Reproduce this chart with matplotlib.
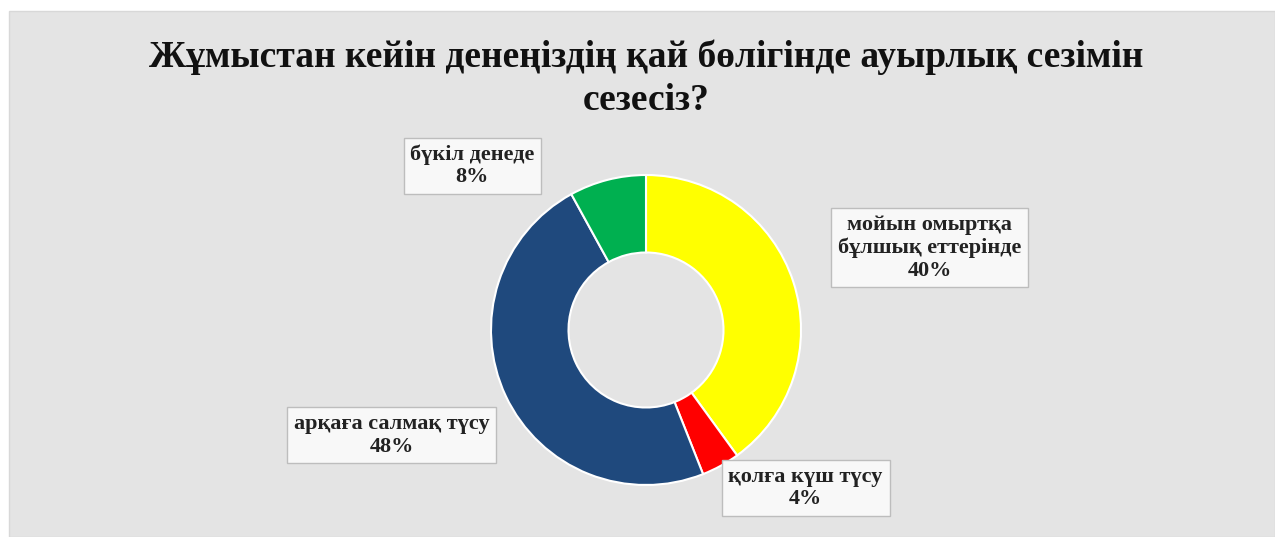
import matplotlib
matplotlib.use("Agg")
import matplotlib.pyplot as plt
from matplotlib.patches import Rectangle

# Survey answers: where people feel heaviness after work
categories = ["мойын омыртқа\nбұлшық еттерінде", "қолға күш түсу", "арқаға салмақ түсу", "бүкіл денеде"]
shares = [40, 4, 48, 8]
colors = ["#ffff00", "#ff0000", "#1f497d", "#00b050"]
title = "Жұмыстан кейін денеңіздің қай бөлігінде ауырлық сезімін\nсезесіз?"

# label box centres in pie units (radius = 1, centre at origin)
label_pos = [(1.83, 0.53), (1.03, -1.02), (-1.64, -0.68), (-1.12, 1.06)]

plt.rcParams["font.family"] = ["Liberation Serif", "DejaVu Serif"]

W, H, DPI = 1275, 537, 100
fig = plt.figure(figsize=(W / DPI, H / DPI), dpi=DPI, facecolor="white")

# chart area background
bg = Rectangle((9 / W, 0), 1 - 9 / W, 1 - 11 / H, transform=fig.transFigure,
               facecolor="#e4e4e4", edgecolor="#d8d8d8", linewidth=1, zorder=-10)
fig.add_artist(bg)

fig.text(646 / W, 1 - 79 / H, title, ha="center", va="center", fontsize=27,
         fontweight="bold", linespacing=1.31, color="#111111")

cx, cy, r = 646, 330, 155
ax = fig.add_axes([(cx - r) / W, (H - cy - r) / H, 2 * r / W, 2 * r / H], zorder=5)

ax.pie(shares, colors=colors, startangle=90, counterclock=False, radius=1,
       wedgeprops=dict(width=0.5, edgecolor="white", linewidth=1.5))
ax.set_xlim(-1, 1)
ax.set_ylim(-1, 1)
ax.set_aspect("equal")
ax.axis("off")

for cat, val, (x, y) in zip(categories, shares, label_pos):
    ax.text(x, y, f"{cat}\n{val}%", ha="center", va="center", fontsize=16,
            fontweight="bold", color="#222222", linespacing=1.17, clip_on=False,
            bbox=dict(boxstyle="square,pad=0.3", facecolor="#f8f8f8",
                      edgecolor="#bdbdbd", linewidth=1))

fig.savefig("out.png", dpi=DPI, facecolor="white")
